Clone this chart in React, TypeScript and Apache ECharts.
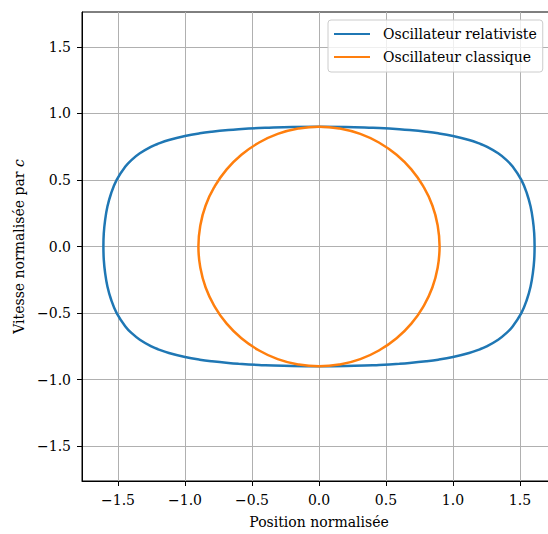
import React, { useEffect, useRef } from "react";
import * as echarts from "echarts";

// Relativistic oscillator (phase portrait)
const relX = [
  1.609, 1.606, 1.596, 1.579, 1.551, 1.51, 1.445, 1.4, 1.337, 1.251, 1.2, 1.12, 1.0, 0.89, 0.8, 0.676, 0.6, 0.449, 0.4, 0.2,
  0.0, -0.2, -0.4, -0.449, -0.6, -0.676, -0.8, -0.89, -1.0, -1.12, -1.2, -1.251, -1.337, -1.4, -1.445, -1.51, -1.551, -1.579,
  -1.596, -1.606, -1.609, -1.606, -1.596, -1.579, -1.551, -1.51, -1.445, -1.4, -1.337, -1.251, -1.2, -1.12, -1.0, -0.89, -0.8,
  -0.676, -0.6, -0.449, -0.4, -0.2, 0.0, 0.2, 0.4, 0.449, 0.6, 0.676, 0.8, 0.89, 1.0, 1.12, 1.2, 1.251, 1.337, 1.4, 1.445,
  1.51, 1.551, 1.579, 1.596, 1.606, 1.609,
];
const relV = [
  0.0, 0.1, 0.2, 0.3, 0.4, 0.5, 0.6, 0.649, 0.7, 0.75, 0.772, 0.8, 0.83, 0.85, 0.862, 0.875, 0.881, 0.89, 0.892, 0.898,
  0.9, 0.898, 0.892, 0.89, 0.881, 0.875, 0.862, 0.85, 0.83, 0.8, 0.772, 0.75, 0.7, 0.649, 0.6, 0.5, 0.4, 0.3,
  0.2, 0.1, 0.0, -0.1, -0.2, -0.3, -0.4, -0.5, -0.6, -0.649, -0.7, -0.75, -0.772, -0.8, -0.83, -0.85, -0.862,
  -0.875, -0.881, -0.89, -0.892, -0.898, -0.9, -0.898, -0.892, -0.89, -0.881, -0.875, -0.862, -0.85, -0.83, -0.8, -0.772,
  -0.75, -0.7, -0.649, -0.6, -0.5, -0.4, -0.3, -0.2, -0.1, 0.0,
];

// Classical oscillator (circle)
const classX = [
  0.9, 0.886, 0.846, 0.779, 0.689, 0.579, 0.45, 0.308, 0.156, 0.0, -0.156, -0.308, -0.45, -0.579, -0.689, -0.779, -0.846,
  -0.886, -0.9, -0.886, -0.846, -0.779, -0.689, -0.579, -0.45, -0.308, -0.156, 0.0, 0.156, 0.308, 0.45, 0.579, 0.689,
  0.779, 0.846, 0.886, 0.9,
];
const classV = [
  0.0, 0.156, 0.308, 0.45, 0.579, 0.689, 0.779, 0.846, 0.886, 0.9, 0.886, 0.846, 0.779, 0.689, 0.579, 0.45, 0.308,
  0.156, 0.0, -0.156, -0.308, -0.45, -0.579, -0.689, -0.779, -0.846, -0.886, -0.9, -0.886, -0.846, -0.779, -0.689, -0.579,
  -0.45, -0.308, -0.156, 0.0,
];

const xTicks = [-1.5, -1.0, -0.5, 0.0, 0.5, 1.0, 1.5];
const yTicks = [-1.5, -1.0, -0.5, 0.0, 0.5, 1.0, 1.5];
const seriesNames = ["Oscillateur relativiste", "Oscillateur classique"];

const FONT = "DejaVu Serif";

function fmt(v: number): string {
  const s = Math.abs(v).toFixed(1);
  return v < -1e-9 ? "\u2212" + s : s;
}

export default function App() {
  const ref = useRef<HTMLDivElement>(null);
  useEffect(() => {
    if (!ref.current) return;
    const chart = echarts.init(ref.current, undefined, { renderer: "svg" });
    const zip = (xs: number[], ys: number[]) => xs.map((x, i) => [x, ys[i]]);
    const axisCommon = {
      type: "value" as const,
      axisLine: { show: true, onZero: false, lineStyle: { color: "#000", width: 1 } },
      axisTick: { show: true, inside: false, length: 5, lineStyle: { color: "#000", width: 1 } },
      splitLine: { show: true, lineStyle: { color: "#b0b0b0", width: 1 } },
    };
    chart.setOption({
      animation: false,
      backgroundColor: "#fff",
      grid: { left: 82, right: 0, top: 12, bottom: 50, show: true, borderColor: "#000", borderWidth: 1, containLabel: false },
      legend: {
        data: seriesNames,
        orient: "vertical",
        left: 328,
        top: 20,
        padding: [6, 6, 7, 6],
        itemWidth: 36,
        itemHeight: 2,
        itemGap: 7,
        icon: "rect",
        borderColor: "#cccccc",
        borderWidth: 1,
        borderRadius: 3,
        backgroundColor: "rgba(255,255,255,0.8)",
        textStyle: { fontFamily: FONT, fontSize: 14, color: "#000", lineHeight: 16, padding: [0, 0, 0, 8] },
      },
      xAxis: {
        ...axisCommon,
        min: -1.7687,
        max: 1.7687,
        axisTick: { ...axisCommon.axisTick, customValues: xTicks },
        axisLabel: {
          customValues: xTicks,
          formatter: (v: number) => fmt(v),
          fontFamily: FONT,
          fontSize: 14,
          color: "#000",
          margin: 12,
        },
        name: "Position normalisée",
        nameLocation: "middle",
        nameGap: 34,
        nameTextStyle: { fontFamily: FONT, fontSize: 14, color: "#000" },
      },
      yAxis: {
        ...axisCommon,
        min: -1.761,
        max: 1.761,
        axisTick: { ...axisCommon.axisTick, customValues: yTicks },
        axisLabel: {
          customValues: yTicks,
          formatter: (v: number) => fmt(v),
          fontFamily: FONT,
          fontSize: 14,
          color: "#000",
          margin: 11,
        },
        name: "Vitesse normalisée par {i|c}",
        nameLocation: "middle",
        nameGap: 55,
        nameRotate: 90,
        nameTextStyle: {
          fontFamily: FONT,
          fontSize: 14,
          color: "#000",
          rich: { i: { fontFamily: FONT, fontSize: 14, fontStyle: "italic", color: "#000" } },
        },
      },
      series: [
        {
          name: seriesNames[0],
          type: "line",
          data: zip(relX, relV),
          showSymbol: false,
          symbol: "none",
          smooth: 0.4,
          lineStyle: { color: "#1f77b4", width: 2.5 },
          itemStyle: { color: "#1f77b4" },
          z: 3,
        },
        {
          name: seriesNames[1],
          type: "line",
          data: zip(classX, classV),
          showSymbol: false,
          symbol: "none",
          smooth: 0.5,
          lineStyle: { color: "#ff7f0e", width: 2.5 },
          itemStyle: { color: "#ff7f0e" },
          z: 4,
        },
      ],
    });
    return () => chart.dispose();
  }, []);
  return (
    <div style={{ position: "absolute", left: 0, top: 0, width: 548, height: 534, overflow: "hidden", background: "#fff" }}>
      <div ref={ref} style={{ position: "absolute", left: 0, top: 0, width: 556, height: 534 }} />
    </div>
  );
}
